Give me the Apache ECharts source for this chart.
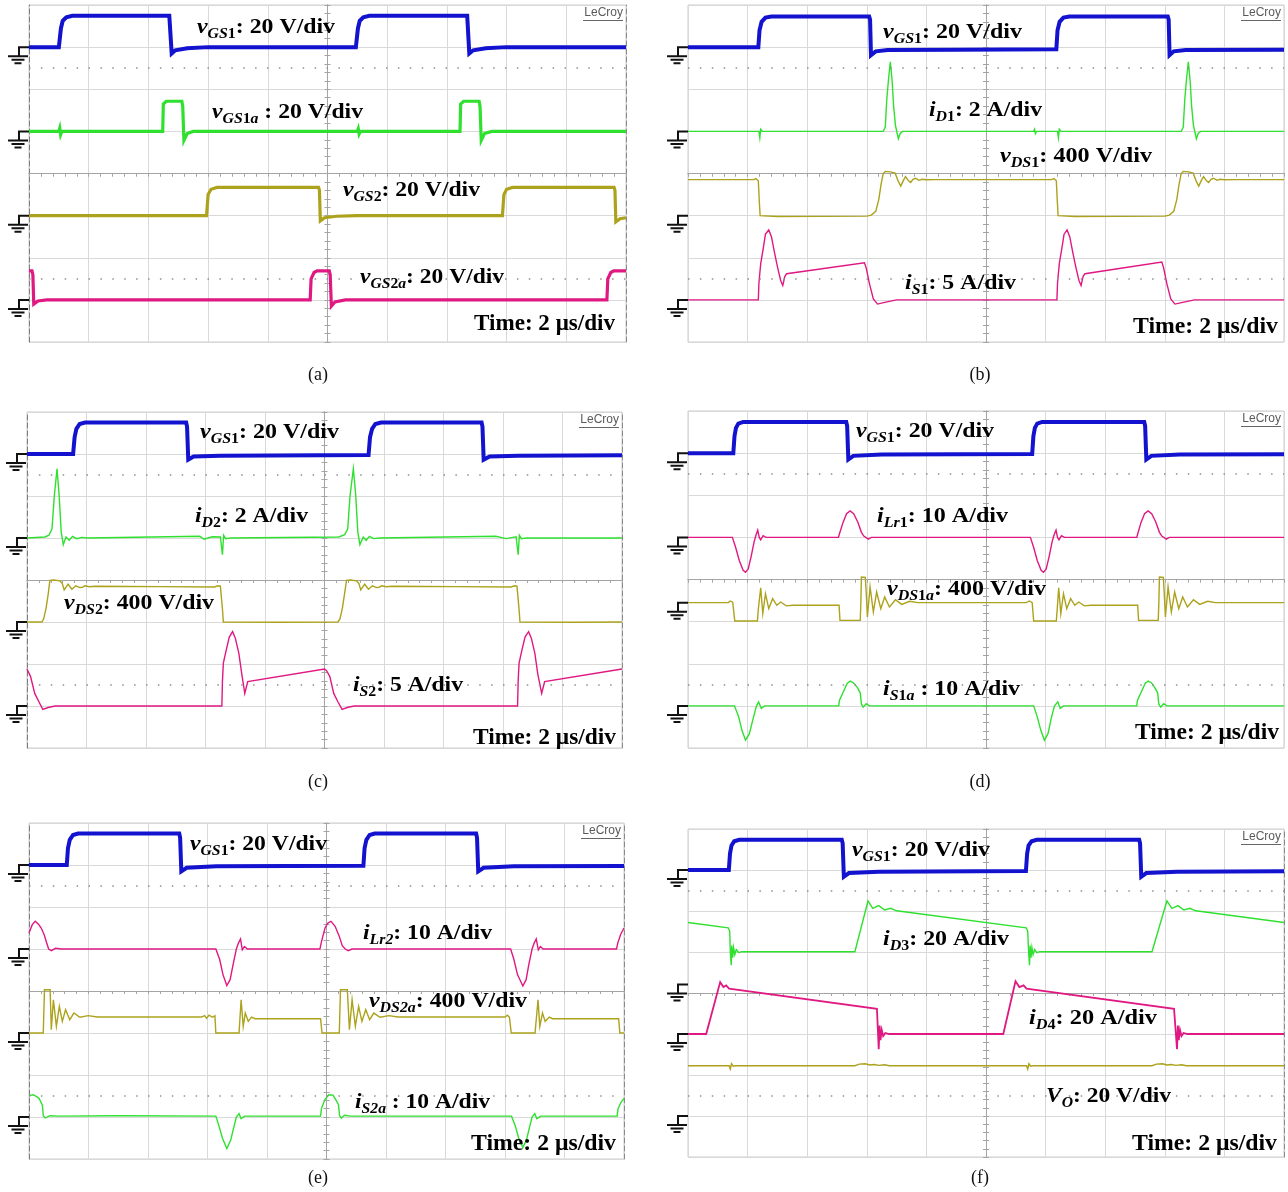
<!DOCTYPE html>
<html><head><meta charset="utf-8">
<script src="https://cdn.jsdelivr.net/npm/echarts@6/dist/echarts.min.js"></script>
<style>html,body{margin:0;padding:0;background:#fff}#c{width:1288px;height:1192px}</style>
</head><body><div id="c"></div>
<script>
// ===== Data: time in µs, values in physical units (V or A) =====
// Panel (a)
const A_vGS1 = [[0,0],[1.0,0],[1.07,9],[1.13,12.5],[1.25,14.2],[1.45,14.9],[4.7,14.9],[4.75,14],[4.78,-3],[4.9,-1.5],[5.3,-0.5],[6,0],[10.95,0],[11.02,9],[11.08,12.5],[11.2,14.2],[11.4,14.9],[14.68,14.9],[14.72,14],[14.75,-3],[14.88,-1.5],[15.3,-0.5],[16,0],[20,0]];
const A_vGS1a = [[0,0],[1.0,0],[1.03,1.5],[1.06,-1.5],[1.1,0],[4.48,0],[4.5,13],[4.6,14.3],[5.12,14.3],[5.15,12],[5.19,-4.3],[5.3,-1],[5.5,0],[11.0,0],[11.03,1.2],[11.06,-1.2],[11.1,0],[14.44,0],[14.46,13],[14.56,14.3],[15.08,14.3],[15.11,12],[15.15,-4.3],[15.26,-1],[15.5,0],[20,0]];
const A_vGS2 = [[0,0],[5.95,0],[6.0,10],[6.1,12.5],[6.3,13.4],[9.7,13.4],[9.73,12],[9.76,-2.5],[9.9,-1],[10.3,-0.3],[11,0],[15.86,0],[15.91,10],[16.0,12.5],[16.2,13.4],[19.6,13.4],[19.63,12],[19.66,-3],[19.8,-1.5],[20,-1]];
const A_vGS2a = [[0,13.8],[0.1,13.8],[0.13,12],[0.16,-2],[0.3,-0.5],[0.6,0],[9.42,0],[9.45,10],[9.55,13],[9.65,13.8],[10.06,13.8],[10.09,12],[10.13,-3],[10.25,-1],[10.6,0],[19.36,0],[19.39,10],[19.49,13],[19.59,13.8],[20,13.8]];
// Panel (b)
const B_vGS1 = [[0,0],[2.36,0],[2.4,8],[2.47,12],[2.6,14],[2.8,14.5],[6.08,14.5],[6.11,13],[6.14,-3.8],[6.3,-2],[6.7,-1.4],[9,-1.2],[12.36,-1],[12.4,8],[12.47,12],[12.6,14],[12.8,14.5],[16.1,14.5],[16.13,13],[16.16,-3.8],[16.3,-2],[16.7,-1.4],[20,-1.2]];
const B_iD1 = [[0,0],[2.38,0],[2.41,-0.3],[2.44,0.1],[2.5,0],[6.55,0],[6.62,0.2],[6.67,1.5],[6.73,2.5],[6.79,3.3],[6.85,2.4],[6.9,1.2],[6.96,0.3],[7.02,-0.1],[7.06,-0.35],[7.12,-0.1],[7.2,0],[11.6,0],[11.63,0.1],[11.66,-0.1],[11.7,0],[12.4,0],[12.43,-0.3],[12.46,0.1],[12.52,0],[16.55,0],[16.62,0.2],[16.67,1.5],[16.73,2.5],[16.79,3.3],[16.85,2.4],[16.9,1.2],[16.96,0.3],[17.02,-0.1],[17.06,-0.35],[17.12,-0.1],[17.2,0],[20,0]];
const B_vDS1 = [[0,342],[2.2,342],[2.28,352],[2.33,346],[2.36,330],[2.39,150],[2.42,0],[2.45,-8],[3,-8],[6,-5],[6.15,5],[6.3,40],[6.4,150],[6.48,300],[6.55,400],[6.62,420],[6.8,415],[6.95,405],[7.05,330],[7.14,280],[7.22,330],[7.3,370],[7.4,330],[7.47,315],[7.55,345],[7.64,355],[7.75,335],[7.85,345],[8.0,340],[8.3,342],[12.2,342],[12.28,352],[12.33,346],[12.36,330],[12.39,150],[12.42,0],[12.45,-8],[13,-8],[16,-5],[16.15,5],[16.3,40],[16.4,150],[16.48,300],[16.55,400],[16.62,420],[16.8,415],[16.95,405],[17.05,330],[17.14,280],[17.22,330],[17.3,370],[17.4,330],[17.47,315],[17.55,345],[17.64,355],[17.75,335],[17.85,345],[18.0,340],[18.3,342],[20,342]];
const B_iS1 = [[0,0],[2.36,0],[2.38,2],[2.44,4.3],[2.52,6],[2.6,7.8],[2.71,8.3],[2.8,7.5],[2.91,5.5],[3.01,3.8],[3.11,2.3],[3.18,1.7],[3.25,2.8],[3.31,3.1],[5.92,4.4],[5.98,3.8],[6.09,1.9],[6.22,0.1],[6.36,-0.5],[6.6,-0.3],[7.0,0],[12.38,0],[12.4,2],[12.46,4.3],[12.54,6],[12.62,7.8],[12.72,8.3],[12.81,7.5],[12.92,5.5],[13.02,3.8],[13.12,2.3],[13.19,1.7],[13.26,2.8],[13.32,3.1],[15.9,4.5],[15.96,3.8],[16.07,1.9],[16.2,0.1],[16.34,-0.5],[16.6,-0.3],[17.0,0],[20,0]];
// Panel (c)
const C_vGS1 = [[0,0],[1.55,0],[1.6,8],[1.66,12],[1.77,14.3],[1.95,15],[5.35,15],[5.38,13],[5.42,-2.7],[5.6,-1.2],[6.5,-0.8],[11.48,-0.5],[11.53,8],[11.6,12],[11.71,14.3],[11.9,15],[15.28,15],[15.31,13],[15.35,-2.7],[15.55,-1.2],[16.5,-0.8],[20,-0.6]];
const C_iD2 = [[0,0],[0.6,0.05],[0.74,0.13],[0.84,0.44],[0.92,2.03],[1.01,3.3],[1.08,2.03],[1.15,0.29],[1.22,-0.32],[1.31,0.05],[1.42,-0.11],[1.53,0.08],[1.67,-0.03],[1.84,0.03],[2.04,0],[5.81,0.08],[5.95,-0.06],[6.23,0.06],[6.5,0.05],[6.54,0],[6.57,-0.79],[6.61,0.13],[6.68,-0.03],[6.84,0],[10.48,0.05],[10.68,0.16],[10.78,0.44],[10.86,2.03],[10.97,3.3],[11.05,2.03],[11.12,0.29],[11.19,-0.32],[11.3,0.05],[11.4,-0.11],[11.51,0.08],[11.65,-0.03],[11.85,0],[15.76,0.08],[16.1,-0.03],[16.44,0.06],[16.48,0],[16.51,-0.79],[16.55,0.13],[16.62,-0.03],[16.79,0],[20,0]];
const C_vDS2 = [[0,0],[0.5,0],[0.56,30],[0.64,130],[0.71,260],[0.77,397],[0.9,400],[1.1,392],[1.18,370],[1.25,305],[1.31,300],[1.38,360],[1.44,365],[1.51,312],[1.57,305],[1.64,345],[1.7,352],[1.78,328],[1.86,330],[1.95,345],[2.1,336],[2.3,340],[4.5,337],[6.3,333],[6.42,345],[6.5,342],[6.54,330],[6.57,120],[6.6,0],[6.65,-6],[8.5,-3],[10.45,0],[10.52,30],[10.6,130],[10.67,260],[10.74,397],[10.87,400],[11.07,392],[11.15,370],[11.22,305],[11.28,300],[11.35,360],[11.41,365],[11.48,312],[11.54,305],[11.61,345],[11.67,352],[11.75,328],[11.83,330],[11.92,345],[12.07,336],[12.27,340],[14.5,337],[16.27,333],[16.39,345],[16.47,342],[16.51,330],[16.54,120],[16.57,0],[16.62,-6],[18.5,-3],[20,0]];
const C_iS2 = [[0,4.4],[0.05,4.2],[0.12,3.5],[0.26,1.5],[0.4,0.5],[0.53,-0.4],[0.74,-0.15],[0.95,0],[6.55,0],[6.57,3],[6.6,5.1],[6.7,6.7],[6.8,8.2],[6.91,8.85],[7.0,8.1],[7.12,6.3],[7.22,3.8],[7.32,1.5],[7.37,2.2],[7.42,2.9],[10.0,4.4],[10.07,4.2],[10.18,3.5],[10.31,1.5],[10.45,0.5],[10.59,-0.4],[10.79,-0.15],[11.0,0],[16.49,0],[16.51,3],[16.54,5.1],[16.64,6.7],[16.74,8.2],[16.86,8.85],[16.95,8.1],[17.07,6.3],[17.17,3.8],[17.3,1.5],[17.35,2.2],[17.4,2.9],[20,4.4]];
// Panel (d)
const D_vGS1 = [[0,0],[1.52,0],[1.56,8],[1.61,12],[1.69,14],[1.85,14.8],[5.31,14.8],[5.34,13],[5.38,-3],[5.55,-1.3],[6.5,-0.6],[11.55,-0.4],[11.59,8],[11.64,12],[11.72,14],[11.88,14.8],[15.31,14.8],[15.34,13],[15.38,-3],[15.55,-1.3],[16.5,-0.6],[20,-0.5]];
const D_iLr1 = [[0,0],[1.49,0],[1.6,-2.4],[1.72,-5.5],[1.85,-7.8],[1.93,-8.3],[2.02,-7.5],[2.12,-4.5],[2.22,-1],[2.28,0.5],[2.34,1.7],[2.39,0],[2.44,-0.6],[2.52,0.4],[2.62,0],[5.05,0],[5.08,0.8],[5.2,3.5],[5.32,5.6],[5.44,6.3],[5.56,5.6],[5.7,3.6],[5.82,1.2],[5.9,0.3],[5.96,0],[6.05,-0.4],[6.15,0],[11.49,0],[11.6,-2.4],[11.72,-5.5],[11.85,-7.8],[11.93,-8.3],[12.02,-7.5],[12.12,-4.5],[12.22,-1],[12.28,0.5],[12.35,1.7],[12.4,0],[12.45,-0.6],[12.53,0.4],[12.63,0],[15.06,0],[15.09,0.8],[15.2,3.5],[15.32,5.6],[15.44,6.3],[15.56,5.6],[15.7,3.6],[15.82,1.2],[15.9,0.3],[15.96,0],[16.05,-0.4],[16.15,0],[20,0]];
const D_vDS1a = [[0,0],[1.35,0],[1.42,16],[1.5,5],[1.55,0],[1.57,-174],[2.33,-174],[2.36,-60],[2.44,142],[2.51,-105],[2.6,85],[2.71,-57],[2.84,38],[2.98,-25],[3.11,6],[3.3,-30],[3.52,-25],[5.07,-25],[5.1,-168],[5.78,-168],[5.8,0],[5.82,244],[5.95,240],[5.98,100],[6.02,-136],[6.11,149],[6.22,-89],[6.33,101],[6.47,-57],[6.6,54],[6.76,-41],[6.96,28],[7.17,-16],[7.44,13],[7.7,0],[11.35,0],[11.46,16],[11.55,0],[11.6,-174],[12.36,-174],[12.39,-60],[12.44,142],[12.51,-105],[12.6,85],[12.71,-57],[12.84,38],[12.98,-25],[13.11,6],[13.3,-30],[13.52,-25],[15.09,-25],[15.12,-168],[15.78,-168],[15.8,0],[15.82,244],[15.95,240],[15.98,100],[16.02,-136],[16.11,149],[16.22,-89],[16.33,101],[16.47,-57],[16.6,54],[16.76,-41],[16.96,28],[17.17,-16],[17.44,13],[17.7,0],[20,0]];
const D_iS1a = [[0,0],[1.56,0],[1.7,-2.6],[1.81,-5.8],[1.93,-8.15],[2.06,-6.6],[2.2,-2.6],[2.3,0],[2.37,0.95],[2.46,-0.6],[2.57,0],[5.06,0],[5.08,1.3],[5.21,3.3],[5.34,5.3],[5.44,5.86],[5.55,5.5],[5.68,4.4],[5.78,3.1],[5.82,0.4],[5.88,-0.3],[5.98,0.5],[6.09,0],[11.6,0],[11.72,-2.6],[11.84,-5.8],[11.96,-8.15],[12.08,-6.6],[12.2,-2.6],[12.3,0],[12.41,0.95],[12.49,-0.6],[12.6,0],[15.06,0],[15.08,1.3],[15.21,3.3],[15.34,5.3],[15.44,5.86],[15.55,5.5],[15.66,4.4],[15.76,3.1],[15.8,0.4],[15.86,-0.3],[15.96,0.5],[16.07,0],[20,0]];
// Panel (e)
const E_vGS1 = [[0,0],[1.27,0],[1.31,8],[1.37,12],[1.48,14.3],[1.65,15],[5.05,15],[5.08,13],[5.12,-3],[5.3,-1.3],[6.3,-0.6],[11.24,-0.4],[11.28,8],[11.34,12],[11.45,14.3],[11.62,15],[15.03,15],[15.06,13],[15.1,-3],[15.28,-1.3],[16.3,-0.6],[20,-0.5]];
const E_iLr2 = [[0,3.8],[0.11,5.8],[0.21,6.6],[0.32,5.9],[0.41,5],[0.51,3.4],[0.58,1.8],[0.66,0],[0.75,-0.4],[0.89,0.16],[1.1,0],[6.28,0],[6.41,-2.5],[6.52,-6.1],[6.65,-8.7],[6.76,-7.3],[6.86,-3.7],[6.97,0],[7.04,1.4],[7.11,2.4],[7.17,-0.2],[7.24,0.6],[7.34,0],[9.78,0],[9.82,1.4],[9.95,5],[10.05,6.2],[10.15,6.6],[10.29,5.4],[10.43,3],[10.53,0.8],[10.63,0],[10.73,-0.4],[10.86,0],[16.19,0],[16.3,-2.5],[16.42,-6.1],[16.6,-8.8],[16.71,-7.3],[16.8,-3.7],[16.91,0],[16.98,1.4],[17.05,2.4],[17.12,-0.2],[17.19,0.6],[17.28,0],[19.75,0],[19.79,1.4],[19.89,3.5],[20,5]];
const E_vDS2a = [[0,0],[0.48,0],[0.52,412],[0.71,412],[0.75,32],[0.82,317],[0.92,63],[1.02,253],[1.12,111],[1.23,222],[1.37,127],[1.51,190],[1.71,150],[1.99,165],[2.3,152],[5.8,152],[5.9,165],[5.97,140],[6.05,170],[6.17,150],[6.25,165],[6.28,0],[7.06,0],[7.13,317],[7.2,63],[7.27,190],[7.37,111],[7.48,152],[7.6,136],[9.8,136],[9.85,0],[10.43,0],[10.47,412],[10.7,412],[10.77,32],[10.86,317],[10.97,63],[11.08,253],[11.19,111],[11.32,222],[11.45,127],[11.59,190],[11.8,150],[12.1,165],[12.4,152],[16.0,152],[16.08,170],[16.15,150],[16.21,0],[17.01,0],[17.11,317],[17.17,63],[17.26,190],[17.35,111],[17.49,152],[17.6,136],[19.82,136],[19.86,0],[20,0]];
const E_iS2a = [[0,5.1],[0.14,5.3],[0.27,4.8],[0.34,4.4],[0.45,2.8],[0.48,0.3],[0.55,-0.24],[0.7,0.3],[1.0,0.2],[3,0.3],[6.28,0.2],[6.38,-2],[6.5,-5],[6.65,-7.5],[6.78,-5.5],[6.9,-2],[6.97,0],[7.06,0.8],[7.13,-0.4],[7.25,0.2],[9.8,0.2],[9.83,2],[9.95,4.2],[10.08,5.3],[10.22,5.2],[10.32,4],[10.4,3],[10.44,0.3],[10.5,-0.3],[10.6,0.4],[10.8,0.2],[16.22,0.2],[16.34,-2],[16.46,-5],[16.6,-7.3],[16.72,-5.5],[16.84,-2],[16.91,0],[17.0,0.8],[17.07,-0.4],[17.2,0.2],[19.77,0.2],[19.8,2],[19.9,3.5],[20,4.4]];
// Panel (f)
const F_vGS1 = [[0,0],[1.37,0],[1.41,8],[1.46,12],[1.55,14],[1.72,14.7],[5.16,14.7],[5.19,13],[5.23,-3.3],[5.4,-1.5],[6.4,-0.8],[11.34,-0.5],[11.38,8],[11.43,12],[11.53,14],[11.7,14.7],[15.14,14.7],[15.17,13],[15.21,-3.3],[15.38,-1.5],[16.4,-0.8],[20,-0.6]];
const F_iD3 = [[0,30.2],[1.35,27.6],[1.4,26],[1.42,15.9],[1.45,9.3],[1.47,19],[1.5,13],[1.53,18],[1.57,14.5],[1.62,17],[1.7,15.5],[1.8,16],[5.6,15.9],[6.04,40.7],[6.2,37.1],[6.4,38.4],[6.6,36.3],[6.8,37.1],[7.0,35.9],[11.35,27.6],[11.4,26],[11.43,15.9],[11.46,9.3],[11.48,19],[11.51,13],[11.54,18],[11.58,14.5],[11.63,17],[11.71,15.5],[11.8,16],[15.57,15.9],[16.07,40.7],[16.24,37.1],[16.44,38.4],[16.64,36.3],[16.84,37.1],[17.04,35.9],[20,30.2]];
const F_iD4 = [[0,0],[0.61,0],[1.08,25.3],[1.19,22.9],[1.28,23.7],[1.38,22.1],[6.34,12.3],[6.38,12],[6.4,-7.4],[6.43,4.1],[6.46,-3],[6.5,2],[6.55,-1],[6.62,0.5],[6.75,0],[10.58,0],[10.99,25.7],[11.12,22.9],[11.26,23.7],[11.36,22.1],[16.31,12.3],[16.37,12],[16.41,-7.4],[16.44,4.1],[16.47,-3],[16.51,2],[16.56,-1],[16.63,0.5],[16.76,0],[20,0]];
const F_VO = [[0,24.5],[1.38,24.5],[1.42,22.9],[1.46,25.5],[1.52,24.3],[1.6,24.5],[5.6,24.5],[5.75,25.3],[5.95,25.5],[6.1,24.9],[6.25,25.1],[6.4,24.7],[6.6,25],[6.75,24.5],[11.36,24.5],[11.4,22.9],[11.44,25.5],[11.5,24.3],[11.58,24.5],[15.57,24.5],[15.72,25.3],[15.92,25.5],[16.07,24.9],[16.22,25.1],[16.37,24.7],[16.57,25],[16.72,24.5],[20,24.5]];

// Time base (µs) and captions
const TIME_MIN = 0, TIME_MAX = 20, TIME_DIV = 2;
const CAPTIONS = ['(a)','(b)','(c)','(d)','(e)','(f)'];

// ===== Styles / layout =====
const BLUE = '#1212cf', GREEN = '#2fe02f', OLIVE = '#aca21c', MAGENTA = '#e01882';
const SERIF = '"Liberation Serif","Times New Roman",serif';
const GROUND = 'path://M10 0H21V2H12V9H20V11H0V9H10Z M3.5 12.5H16.5V14.5H3.5Z M6.5 16H13.5V18H6.5Z';
const TIME_LBL = '{n|Time: 2 μs/div}';
const AX = '#a4a4a4', GRIDC = '#d9d9d9';

const PANELS = [
  { box:{left:29, top:5, width:597, height:337}, cap:[318,375], dashL:true, dashR:true,
    traces:[ {d:A_vGS1, s:20, o:3, c:BLUE, w:4}, {d:A_vGS1a, s:20, o:1, c:GREEN, w:3.2}, {d:A_vGS2, s:20, o:-1, c:OLIVE, w:3.2}, {d:A_vGS2a, s:20, o:-3, c:MAGENTA, w:3.2} ],
    labels:[ ['{it|v}{si|GS}{sn|1}{n|: 20 V/div}',197,28,138,21], ['{it|v}{si|GS}{sn|1}{si|a}{n| : 20 V/div}',212,113,151,21], ['{it|v}{si|GS}{sn|2}{n|: 20 V/div}',343,191,137,21], ['{it|v}{si|GS}{sn|2}{si|a}{n|: 20 V/div}',360,278,144,21], [TIME_LBL,474,324,141,23] ] },
  { box:{left:688, top:5, width:596, height:337}, cap:[980,375], dashL:false, dashR:false,
    traces:[ {d:B_vGS1, s:20, o:3, c:BLUE, w:4}, {d:B_iD1, s:2, o:1, c:GREEN, w:1.4}, {d:B_vDS1, s:400, o:-1, c:OLIVE, w:1.4}, {d:B_iS1, s:5, o:-3, c:MAGENTA, w:1.4} ],
    labels:[ ['{it|v}{si|GS}{sn|1}{n|: 20 V/div}',883,33,139,21], ['{it|i}{si|D}{sn|1}{n|: 2 A/div}',929,111,113,21], ['{it|v}{si|DS}{sn|1}{n|: 400 V/div}',1000,157,152,21], ['{it|i}{si|S}{sn|1}{n|: 5 A/div}',905,284,111,21], [TIME_LBL,1133,327,145,23] ] },
  { box:{left:27, top:412, width:595, height:336}, cap:[318,782], dashL:true, dashR:true,
    traces:[ {d:C_vGS1, s:20, o:3, c:BLUE, w:4}, {d:C_iD2, s:2, o:1, c:GREEN, w:1.4}, {d:C_vDS2, s:400, o:-1, c:OLIVE, w:1.4}, {d:C_iS2, s:5, o:-3, c:MAGENTA, w:1.4} ],
    labels:[ ['{it|v}{si|GS}{sn|1}{n|: 20 V/div}',200,433,139,21], ['{it|i}{si|D}{sn|2}{n|: 2 A/div}',195,517,113,21], ['{it|v}{si|DS}{sn|2}{n|: 400 V/div}',64,604,150,21], ['{it|i}{si|S}{sn|2}{n|: 5 A/div}',353,686,110,21], [TIME_LBL,473,738,143,23] ] },
  { box:{left:688, top:411, width:596, height:337}, cap:[980,782], dashL:false, dashR:false,
    traces:[ {d:D_vGS1, s:20, o:3, c:BLUE, w:4}, {d:D_iLr1, s:10, o:1, c:MAGENTA, w:1.4}, {d:D_vDS1a, s:400, o:-0.55, c:OLIVE, w:1.4}, {d:D_iS1a, s:10, o:-3, c:GREEN, w:1.4} ],
    labels:[ ['{it|v}{si|GS}{sn|1}{n|: 20 V/div}',856,432,138,21], ['{it|i}{si|Lr}{sn|1}{n|: 10 A/div}',877,517,131,21], ['{it|v}{si|DS}{sn|1}{si|a}{n|: 400 V/div}',887,590,159,21], ['{it|i}{si|S}{sn|1}{si|a}{n| : 10 A/div}',883,690,137,21], [TIME_LBL,1135,733,144,23] ] },
  { box:{left:29, top:823, width:595, height:336}, cap:[318,1178], dashL:true, dashR:true,
    traces:[ {d:E_vGS1, s:20, o:3, c:BLUE, w:4}, {d:E_iLr2, s:10, o:1, c:MAGENTA, w:1.4}, {d:E_vDS2a, s:400, o:-1, c:OLIVE, w:1.4}, {d:E_iS2a, s:10, o:-3, c:GREEN, w:1.4} ],
    labels:[ ['{it|v}{si|GS}{sn|1}{n|: 20 V/div}',190,845,137,21], ['{it|i}{si|Lr2}{n|: 10 A/div}',363,934,129,21], ['{it|v}{si|DS2a}{n|: 400 V/div}',369,1002,158,21], ['{it|i}{si|S2a}{n| : 10 A/div}',355,1103,135,21], [TIME_LBL,471,1144,145,23] ] },
  { box:{left:688, top:829, width:596, height:328}, cap:[980,1178], dashL:false, dashR:true,
    traces:[ {d:F_vGS1, s:20, o:3, c:BLUE, w:4}, {d:F_iD3, s:20, o:0.21, c:GREEN, w:1.4}, {d:F_iD4, s:20, o:-1, c:MAGENTA, w:1.8}, {d:F_VO, s:20, o:-3, c:OLIVE, w:1.4} ],
    labels:[ ['{it|v}{si|GS}{sn|1}{n|: 20 V/div}',852,851,138,21], ['{it|i}{si|D}{sn|3}{n|: 20 A/div}',883,940,126,21], ['{it|i}{si|D}{sn|4}{n|: 20 A/div}',1029,1019,128,21], ['{it|V}{si|O}{n|: 20 V/div}',1046,1097,125,21], [TIME_LBL,1132,1144,145,23] ] }
];

// ===== Build =====
const ctx = document.createElement('canvas').getContext('2d');
function richFor(fs){
  const sub = Math.round(fs*0.66), pad = Math.round(fs*0.62);
  const base = {fontFamily:SERIF, fontWeight:'bold', color:'#000', fill:'#000'};
  return {
    it: Object.assign({}, base, {fontSize:fs, fontStyle:'italic'}),
    n:  Object.assign({}, base, {fontSize:fs}),
    si: Object.assign({}, base, {fontSize:sub, fontStyle:'italic', padding:[pad,0,0,0]}),
    sn: Object.assign({}, base, {fontSize:sub, padding:[pad,0,0,0]})
  };
}
function measure(text, rich){
  let w = 0; const re = /\{(\w+)\|([^}]*)\}/g; let m;
  while ((m = re.exec(text))) {
    const st = rich[m[1]];
    ctx.font = (st.fontStyle==='italic'?'italic ':'') + 'bold ' + st.fontSize + 'px "Liberation Serif"';
    w += ctx.measureText(m[2]).width;
  }
  return w;
}

const grids=[], xAxes=[], yAxes=[], series=[], graphics=[];
PANELS.forEach((p, gi) => {
  grids.push(Object.assign({show:true, borderColor:'#cdcdcd', borderWidth:1, backgroundColor:'#fff'}, p.box));
  const divIdx = yAxes.length;
  yAxes.push({gridIndex:gi, type:'value', min:-4, max:4, interval:1,
    axisLine:{show:p.dashL, onZero:true, lineStyle:{color:'#7d7d7d', type:[5,3], width:1}},
    axisTick:{show:false}, axisLabel:{show:false}, splitLine:{show:true, lineStyle:{color:GRIDC, width:1}}});
  // centre vertical line, ticks on both sides
  [false, true].forEach(inside => {
    yAxes.push({gridIndex:gi, type:'value', min:-4, max:4, interval:1, position:'left', offset:-p.box.width/2,
      axisLine:{show:true, onZero:false, lineStyle:{color:AX, width:1}},
      axisTick:{show:true, inside:inside, length:3, lineStyle:{color:AX}},
      minorTick:{show:true, splitNumber:5, length:3, lineStyle:{color:AX}},
      axisLabel:{show:false}, splitLine:{show:false}});
  });
  yAxes.push({gridIndex:gi, type:'value', min:-4, max:4, position:'right',
    axisLine:{show:p.dashR, onZero:false, lineStyle:{color:'#8a8a8a', type:[5,3], width:1}},
    axisTick:{show:false}, axisLabel:{show:false}, splitLine:{show:false}});
  const xIdx = xAxes.length;
  // centre horizontal line (on zero of the division axis), ticks on both sides
  [false, true].forEach((inside, k) => {
    xAxes.push({gridIndex:gi, type:'value', min:TIME_MIN, max:TIME_MAX, interval:TIME_DIV,
      axisLine:{show:true, onZero:true, onZeroAxisIndex:divIdx, lineStyle:{color:AX, width:1}},
      axisTick:{show:true, inside:inside, length:3, lineStyle:{color:AX}},
      minorTick:{show:true, splitNumber:5, length:3, lineStyle:{color:AX}},
      axisLabel:{show:false}, splitLine:{show:k===0, lineStyle:{color:GRIDC, width:1}}});
  });
  // dotted reference rows at ±2.5 div
  series.push({type:'line', xAxisIndex:xIdx, yAxisIndex:divIdx, data:[], silent:true, animation:false,
    markLine:{silent:true, symbol:'none', animation:false, label:{show:false},
      lineStyle:{color:'#8f8f8f', width:1.5, type:[1.5,10.4]}, data:[{yAxis:2.5},{yAxis:-2.5}]}});
  p.traces.forEach(tr => {
    const yi = yAxes.length;
    yAxes.push({gridIndex:gi, type:'value', show:false, min:(-4 - tr.o)*tr.s, max:(4 - tr.o)*tr.s});
    series.push({type:'line', xAxisIndex:xIdx, yAxisIndex:yi, data:tr.d, symbol:'none', showSymbol:false,
      animation:false, silent:true, z:3, lineStyle:{color:tr.c, width:tr.w, join:'miter'}, itemStyle:{color:tr.c},
      markPoint:{symbol:GROUND, symbolSize:[21,18], symbolOffset:[-10.5,8], silent:true, animation:false,
        itemStyle:{color:'#111'}, label:{show:false}, data:[{coord:[TIME_MIN,0]}]}});
  });
  // labels
  p.labels.forEach(l => {
    const rich = richFor(l[4]);
    const w = measure(l[0], rich);
    graphics.push({type:'text', x:l[1], y:l[2], scaleX: l[3]/w, z:100, silent:true,
      style:{text:l[0], rich:rich, align:'left', verticalAlign:'middle', fill:'#000',
        font:'bold '+l[4]+'px "Liberation Serif"'}});
  });
  // LeCroy tag
  const rx = p.box.left + p.box.width - 3, ty = p.box.top + 2;
  graphics.push({type:'text', x:rx, y:ty, z:100, silent:true,
    style:{text:'LeCroy', align:'right', verticalAlign:'top', fill:'#5a5a5a', font:'12px "Liberation Sans"'}});
  graphics.push({type:'line', z:100, silent:true, shape:{x1:rx-40, y1:ty+13.5, x2:rx, y2:ty+13.5}, style:{stroke:'#666', lineWidth:1}});
  // caption
  graphics.push({type:'text', x:p.cap[0], y:p.cap[1], z:100, silent:true,
    style:{text:CAPTIONS[gi], align:'center', verticalAlign:'middle', fill:'#111', font:'18px "Liberation Serif"'}});
});

const chart = echarts.init(document.getElementById('c'), null, {renderer:'canvas'});
chart.setOption({
  animation:false, backgroundColor:'#fff',
  grid:grids, xAxis:xAxes, yAxis:yAxes, series:series, graphic:graphics
});
</script></body></html>
